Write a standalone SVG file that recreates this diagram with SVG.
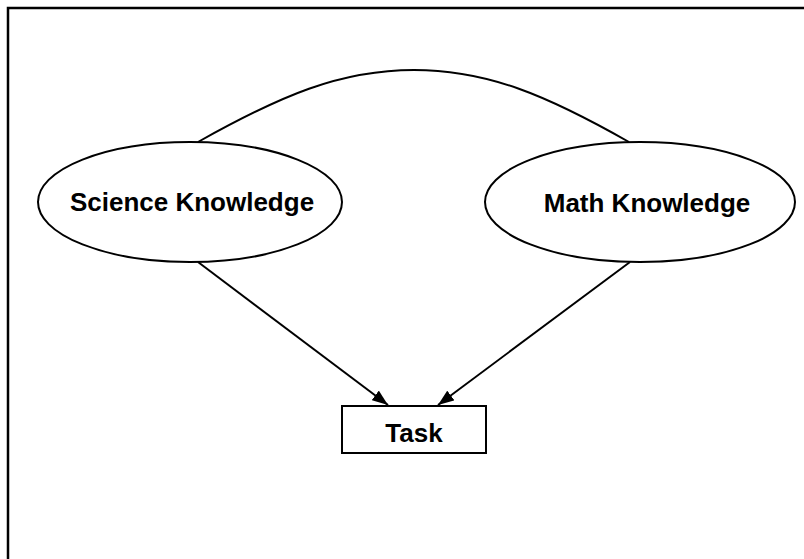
<svg xmlns="http://www.w3.org/2000/svg" width="804" height="559" viewBox="0 0 804 559">
  <style>
    .shape { fill: #ffffff; stroke: #000000; stroke-width: 2; }
    .edge { fill: none; stroke: #000000; stroke-width: 2; }
    .label { font-family: "Liberation Sans", Arial, sans-serif; font-weight: bold; font-size: 26px; fill: #000000; text-anchor: middle; }
  </style>
  <defs>
    <marker id="arrow" viewBox="0 0 16 12" refX="16" refY="6" markerWidth="16" markerHeight="12" markerUnits="userSpaceOnUse" orient="auto">
      <path d="M0,0 L16,6 L0,12 z" fill="#000000"/>
    </marker>
  </defs>
  <rect x="0" y="0" width="804" height="559" fill="#ffffff"/>
  <!-- frame -->
  <rect x="8" y="8" width="900" height="700" fill="none" stroke="#000000" stroke-width="2.5"/>

  <g id="connectors">
    <path class="edge" d="M198,142 C280,96 340,70 414,70 C488,70 548,96 629,142"/>
    <line class="edge" x1="198" y1="262" x2="388" y2="405" marker-end="url(#arrow)"/>
    <line class="edge" x1="630" y1="262" x2="438" y2="405" marker-end="url(#arrow)"/>
  </g>

  <g id="science">
    <ellipse class="shape" cx="190" cy="202" rx="152" ry="60"/>
    <text class="label" x="192" y="211">Science Knowledge</text>
  </g>

  <g id="math">
    <ellipse class="shape" cx="640" cy="202" rx="155" ry="60"/>
    <text class="label" x="647" y="212">Math Knowledge</text>
  </g>

  <g id="task">
    <rect class="shape" x="342" y="406" width="144" height="47"/>
    <text class="label" x="414" y="442">Task</text>
  </g>
</svg>
